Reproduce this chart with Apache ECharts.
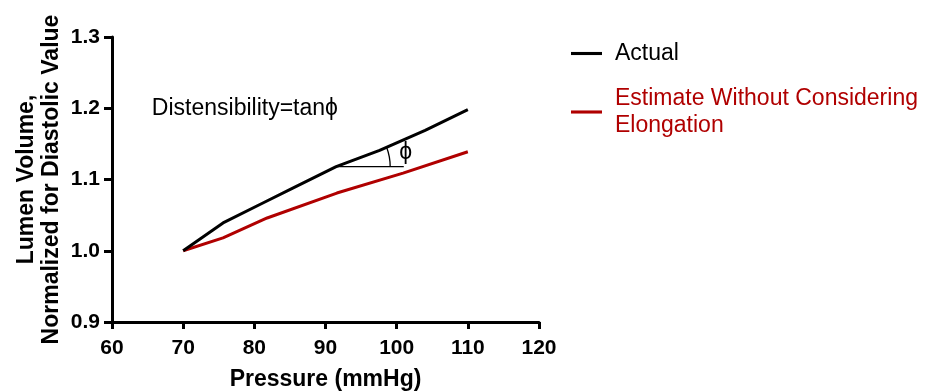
<!DOCTYPE html>
<html>
<head>
<meta charset="utf-8">
<script src="https://cdn.jsdelivr.net/npm/echarts@6/dist/echarts.min.js"></script>
<style>
  html, body { margin: 0; padding: 0; background: #fff; }
  #chart { width: 935px; height: 392px; }
</style>
</head>
<body>
<div id="chart"></div>
<script>
// values
const pressureActual = [70, 75.6, 81.2, 85.4, 91.5, 97.6, 104, 110];
const volumeActual = [1.000, 1.039, 1.067, 1.088, 1.118, 1.141, 1.169, 1.198];
const pressureEstimate = [70, 75.6, 81.8, 91.6, 100.9, 110];
const volumeEstimate = [1.000, 1.018, 1.046, 1.081, 1.109, 1.139];
const seriesNames = ['Actual', 'Estimate Without Considering\nElongation'];
const seriesColors = ['#000000', '#b00000'];
// angle annotation: vertex on the Actual curve, horizontal leg end
const angleVertex = [91.5, 1.118];
const angleLegEnd = 101;
const angleRayPoint = [97.6, 1.141];

const font = 'Arial, "Liberation Sans", sans-serif';
const chart = echarts.init(document.getElementById('chart'));

const zip = (xs, ys) => xs.map((x, i) => [x, ys[i]]);

chart.setOption({
    animation: false,
    textStyle: { fontFamily: font },
    grid: { left: 112, right: 396, top: 37, bottom: 70, outerBoundsMode: 'none', containLabel: false },
    legend: {
        orient: 'vertical',
        left: 566,
        top: 35,
        itemWidth: 31,
        itemHeight: 14,
        itemGap: 18,
        icon: 'path://M0,0 L10,0 L10,1 L0,1 Z',
        textStyle: { fontSize: 23, fontFamily: font, lineHeight: 27, padding: [0, 0, 0, 8] },
        data: seriesNames.map((n, i) => ({ name: n, textStyle: { color: seriesColors[i] } }))
    },
    xAxis: {
        type: 'value',
        min: 60, max: 120, interval: 10,
        name: 'Pressure (mmHg)',
        nameLocation: 'middle',
        nameGap: 46,
        nameTextStyle: { fontSize: 23, fontWeight: 'bold', color: '#000' },
        axisLine: { show: true, lineStyle: { color: '#000', width: 3 } },
        axisTick: { show: true, length: 7, lineStyle: { color: '#000', width: 3 } },
        axisLabel: { fontSize: 21, fontWeight: 'bold', color: '#000', margin: 16 },
        splitLine: { show: false }
    },
    yAxis: {
        type: 'value',
        min: 0.9, max: 1.3, interval: 0.1,
        name: 'Lumen Volume,\nNormalized for Diastolic Value',
        nameLocation: 'middle',
        nameGap: 48,
        nameTextStyle: { fontSize: 23, fontWeight: 'bold', color: '#000', lineHeight: 25 },
        axisLine: { show: true, lineStyle: { color: '#000', width: 3 } },
        axisTick: { show: true, length: 8, lineStyle: { color: '#000', width: 3 } },
        axisLabel: { fontSize: 21, fontWeight: 'bold', color: '#000', margin: 12,
            formatter: v => v.toFixed(1) },
        splitLine: { show: false }
    },
    series: [
        {
            name: seriesNames[0],
            type: 'line',
            data: zip(pressureActual, volumeActual),
            showSymbol: false,
            lineStyle: { color: seriesColors[0], width: 3 },
            itemStyle: { color: seriesColors[0] },
            z: 3
        },
        {
            name: seriesNames[1],
            type: 'line',
            data: zip(pressureEstimate, volumeEstimate),
            showSymbol: false,
            lineStyle: { color: seriesColors[1], width: 3 },
            itemStyle: { color: seriesColors[1] },
            z: 2
        },
        {
            type: 'custom',
            silent: true,
            data: [angleVertex],
            renderItem: function (params, api) {
                const p = api.coord([api.value(0), api.value(1)]);
                const end = api.coord([angleLegEnd, api.value(1)]);
                const ray = api.coord(angleRayPoint);
                const ang = Math.atan2(ray[1] - p[1], ray[0] - p[0]);
                return {
                    type: 'group',
                    children: [
                        { type: 'line', shape: { x1: p[0], y1: p[1], x2: end[0], y2: end[1] },
                          style: { stroke: '#000', lineWidth: 1.3 } },
                        { type: 'arc', shape: { cx: p[0], cy: p[1], r: 54, startAngle: ang, endAngle: 0, clockwise: true },
                          style: { stroke: '#000', lineWidth: 1.3, fill: null } },
                        { type: 'text', x: end[0] + 2, y: end[1] - 14,
                          style: { text: 'ϕ', font: '23px ' + font, fill: '#000', align: 'center', verticalAlign: 'middle' } }
                    ]
                };
            }
        },
        {
            type: 'custom',
            silent: true,
            data: [[65.6, 1.2]],
            renderItem: function (params, api) {
                const p = api.coord([api.value(0), api.value(1)]);
                return {
                    type: 'text', x: p[0], y: p[1],
                    style: { text: 'Distensibility=tanϕ', font: '23px ' + font, fill: '#000', align: 'left', verticalAlign: 'middle' }
                };
            }
        }
    ]
});
</script>
</body>
</html>
